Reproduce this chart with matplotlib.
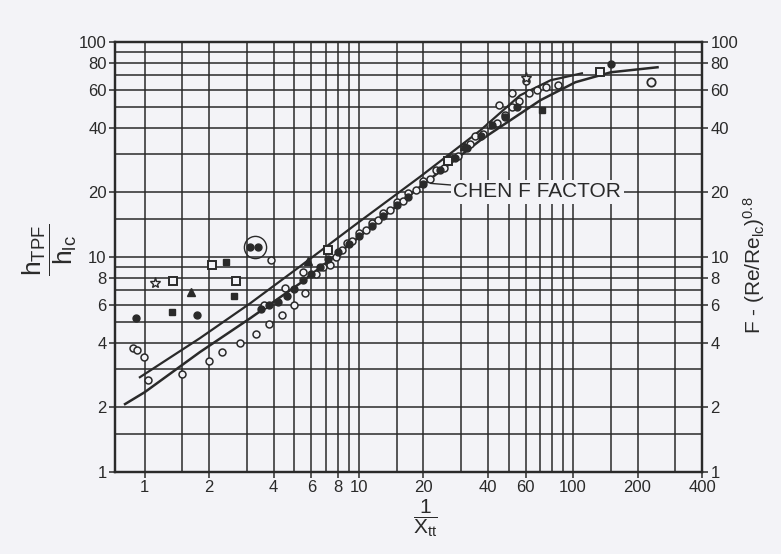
import matplotlib.pyplot as plt
import numpy as np

plt.rcParams['font.family'] = ['Liberation Sans', 'DejaVu Sans']
plt.rcParams['mathtext.fontset'] = 'custom'
plt.rcParams['mathtext.rm'] = 'Liberation Sans'
plt.rcParams['mathtext.it'] = 'Liberation Sans'

# Curva de Chen (inferior) y curva superior
chen_x = [0.81, 1.0, 1.81, 3.11, 5.32, 9.6, 19.4, 36.9, 70.4, 102.6, 150, 248]
chen_y = [2.07, 2.35, 3.61, 5.19, 7.55, 11.97, 21.3, 34.9, 53.6, 65.0, 72.3, 76.3]
upper_x = [0.95, 1.81, 3.11, 5.32, 9.6, 19.4, 36.9, 56.6, 78.6, 110]
upper_y = [2.76, 4.19, 6.09, 9.05, 14.1, 23.7, 38.8, 56.5, 66.4, 71.5]

# Datos experimentales
open_circ_x = [0.88, 0.92, 0.99, 1.04, 1.5, 2.0, 2.3, 2.8, 3.3, 3.8, 4.4, 5.0, 5.6, 3.9, 4.5,
               5.5, 3.6, 6.3, 6.8, 7.3, 7.8, 8.3, 8.8, 9.3, 10, 10.8, 11.5, 12.3, 13, 14, 15,
               16, 17, 18.5, 20, 21.5, 23, 25, 27, 29, 31, 33, 35, 38, 41, 44, 48, 52, 56,
               62, 68, 75, 85, 52, 60, 45]
open_circ_y = [3.76, 3.68, 3.42, 2.67, 2.85, 3.3, 3.6, 4.0, 4.4, 4.9, 5.4, 6.0, 6.8, 9.7, 7.2,
               8.5, 6.0, 8.3, 9.0, 9.2, 10.0, 10.8, 11.6, 11.9, 13, 13.3, 14.4, 14.8, 16, 16.5, 18,
               18.3, 19.8, 20.5, 22.5, 23, 25.5, 26, 29, 29.5, 32.5, 33.5, 36.5, 37.5, 41, 42, 46, 50, 53,
               58, 60, 62, 63, 58, 66, 51]
filled_circ_x = [0.91, 1.76, 3.1, 3.4, 3.5, 3.8, 4.2, 4.6, 5.0, 5.5, 6.0, 6.6, 7.2, 8.0, 9.0,
                 10, 11.5, 13, 15, 17, 20, 24, 28, 32, 37, 42, 48, 55, 150]
filled_circ_y = [5.18, 5.35, 11.1, 11.1, 5.7, 6.0, 6.2, 6.6, 7.1, 7.8, 8.3, 9.0, 9.8, 10.6, 11.5,
                 12.5, 14.0, 15.5, 17.4, 19, 21.8, 25.5, 29, 32, 36.5, 41, 45, 50, 79.3]
open_sq_x = [1.36, 2.06, 2.67, 134, 7.2, 26]
open_sq_y = [7.71, 9.15, 7.71, 72.5, 10.8, 28]
filled_sq_x = [1.34, 2.40, 71.7, 2.6]
filled_sq_y = [5.53, 9.45, 48.5, 6.6]
tri_x = [1.65, 5.8, 31]
tri_y = [6.86, 9.6, 33]
star_x = [1.12, 60]
star_y = [7.55, 68]
diam_x = [230]
diam_y = [65.2]

xticks = [1, 2, 4, 6, 8, 10, 20, 40, 60, 100, 200, 400]
yticks = [1, 2, 4, 6, 8, 10, 20, 40, 60, 80, 100]
xgrid = [1, 1.5, 2, 3, 4, 5, 6, 7, 8, 9, 10, 15, 20, 30, 40, 50, 60, 70, 80, 90,
         100, 150, 200, 300]
ygrid = [1.5, 2, 3, 4, 5, 6, 7, 8, 9, 10, 15, 20, 30, 40, 50, 60, 70, 80, 90]

bg = '#f3f3f7'
ink = '#2a2a2a'

fig = plt.figure(figsize=(7.81, 5.54), dpi=100)
fig.patch.set_facecolor(bg)
ax = fig.add_axes([115 / 781, (554 - 472) / 554, 587 / 781, 430 / 554])
ax.set_facecolor(bg)
ax.set_xscale('log')
ax.set_yscale('log')
ax.set_xlim(0.727, 400)
ax.set_ylim(1, 100)

# Cuadricula
for g in xgrid:
    ax.axvline(g, color=ink, lw=1.1, zorder=1)
for g in ygrid:
    ax.axhline(g, color=ink, lw=1.1, zorder=1)

# Curvas
ax.plot(chen_x, chen_y, color=ink, lw=1.8, zorder=3)
ax.plot(upper_x, upper_y, color=ink, lw=1.6, zorder=3)

# Puntos
ms = 5
ax.plot(open_circ_x, open_circ_y, 'o', ms=ms, mfc=bg, mec=ink, mew=1.1, zorder=4)
ax.plot(filled_circ_x, filled_circ_y, 'o', ms=ms, color=ink, zorder=4)
ax.plot(open_sq_x, open_sq_y, 's', ms=ms + 1, mfc=bg, mec=ink, mew=1.4, zorder=4)
ax.plot(filled_sq_x, filled_sq_y, 's', ms=ms, color=ink, zorder=4)
ax.plot(tri_x, tri_y, '^', ms=ms + 1, color=ink, zorder=4)
ax.plot(star_x, star_y, '*', ms=ms + 3, mfc=bg, mec=ink, mew=1.0, zorder=4)
ax.plot(diam_x, diam_y, 'o', ms=ms + 1, mfc=bg, mec=ink, mew=1.3, zorder=4)
ax.plot([3.27], [11.1], 'o', ms=16, mfc='none', mec=ink, mew=1.0, zorder=4)

# Etiqueta de la curva
ax.annotate('CHEN F FACTOR', xy=(21.6, 22.0), xytext=(68, 20.1),
            ha='center', va='center', fontsize=15, color=ink,
            bbox=dict(boxstyle='square,pad=0.12', fc=bg, ec='none'),
            arrowprops=dict(arrowstyle='-', color=ink, lw=1.0, shrinkA=0, shrinkB=0),
            zorder=5)

# Ejes y etiquetas
ax.set_xticks(xticks)
ax.set_xticklabels([str(t) for t in xticks])
ax.set_yticks(yticks)
ax.set_yticklabels([str(t) for t in yticks])
ax.minorticks_off()
ax.tick_params(axis='both', labelsize=12, colors=ink, length=4, width=1.1, pad=2)
for s in ax.spines.values():
    s.set_linewidth(1.6)
    s.set_color(ink)

ax2 = ax.twinx()
ax2.set_yscale('log')
ax2.set_ylim(1, 100)
ax2.set_yticks(yticks)
ax2.set_yticklabels([str(t) for t in yticks])
ax2.minorticks_off()
ax2.tick_params(axis='y', labelsize=12, colors=ink, length=4, width=1.1, pad=2)
for s in ax2.spines.values():
    s.set_linewidth(1.6)
    s.set_color(ink)

fig.text(50 / 781, 1 - 250 / 554, r'$\dfrac{\mathrm{h_{TPF}}}{\mathrm{h_{lc}}}$',
         rotation=90, ha='center', va='center', fontsize=19, color=ink)
fig.text(754 / 781, 1 - 265 / 554, r'F - (Re/Re$_{\mathrm{lc}}$)$^{0.8}$',
         rotation=90, ha='center', va='center', fontsize=15, color=ink)
fig.text(425 / 781, 1 - 518 / 554, r'$\dfrac{\mathrm{1}}{\mathrm{X_{tt}}}$',
         ha='center', va='center', fontsize=15, color=ink)

fig.savefig('out.png', dpi=100, facecolor=bg)
